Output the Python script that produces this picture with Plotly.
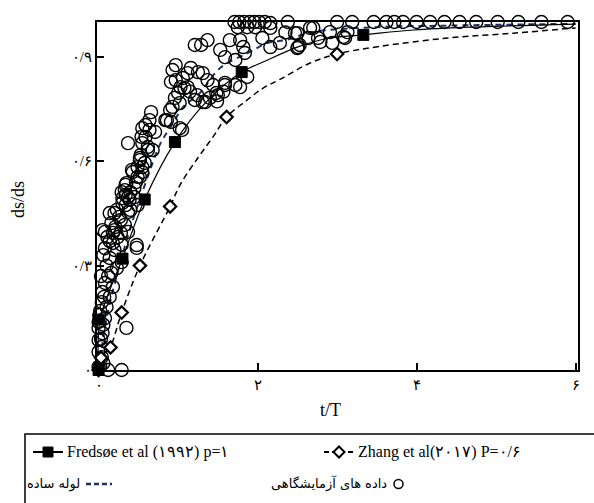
import plotly.graph_objects as go

# ---- data -------------------------------------------------------------
# laboratory measurements (t/T, ds/ds)
lab_t = [
    0.12, 0.29, 0.0, 0.04, 0.0, 0.04, 0.0, 0.05, 0.0, 0.35, 0.0, 0.08, 0.01, 0.10,
    0.04, 0.14, 0.05, 0.18, 0.08, 0.16, 0.23, 0.29, 0.14, 0.20, 0.29, 0.48, 0.18,
    0.11, 0.24, 0.05, 0.20, 0.16, 0.26, 0.14, 0.37, 0.23, 0.49, 0.30, 0.37, 0.29,
    0.45, 0.35, 0.49, 0.42, 0.55, 0.52, 0.62, 0.54, 0.48,
    0.02, 0.06, 0.03, 0.06, 0.02, 0.07, 0.03, 0.10, 0.06, 0.12, 0.08, 0.14,
    1.29, 1.53, 0.97, 0.93, 1.16, 1.25, 1.12, 1.06, 0.97, 0.91, 1.03, 1.12, 1.00,
    0.96, 1.02, 0.93, 0.90, 0.84, 0.91, 1.02, 1.31, 1.37, 1.44, 1.48, 1.40, 1.31,
    1.21, 1.59, 0.66, 0.59, 0.55, 0.64, 0.71, 0.59, 0.55, 0.37, 0.62, 0.68, 0.53,
    0.52, 0.58, 0.49, 0.55, 0.43, 0.52, 0.47, 0.34, 0.33, 0.40, 0.34, 0.30, 0.39,
    0.45, 0.34, 0.40, 0.20, 0.28, 0.33, 0.21, 0.08, 0.18, 0.28, 0.37,
    0.64, 0.86, 1.05, 1.21,
    1.71, 1.77, 1.83, 1.90, 1.96, 2.02, 2.09, 1.75, 1.87, 1.97, 2.16, 2.16, 2.38,
    2.35, 2.47, 2.66, 2.51, 2.16, 1.37, 1.65, 1.78, 1.82, 1.59, 1.72, 1.84, 2.06,
    1.87, 1.72, 1.78, 1.59, 1.50,
    2.28, 2.50, 2.50, 2.64, 2.70, 2.79, 2.94, 2.91, 3.10, 3.13, 2.53, 2.76, 3.08,
    1.24, 1.34, 1.49, 1.57, 1.08, 1.15,
    3.00, 3.19, 3.46, 3.62, 3.72, 3.83, 4.00, 4.17, 4.35, 4.54, 4.75, 5.02, 5.28,
    5.57, 5.90,
]
lab_ds = [
    0.0, 0.0, 0.009, 0.037, 0.052, 0.066, 0.086, 0.106, 0.121, 0.121, 0.138, 0.149,
    0.158, 0.181, 0.195, 0.21, 0.224, 0.239, 0.25, 0.279, 0.293, 0.31, 0.322, 0.345,
    0.36, 0.351, 0.365, 0.382, 0.382, 0.402, 0.402, 0.422, 0.44, 0.451, 0.454, 0.46,
    0.474, 0.48, 0.497, 0.511, 0.523, 0.537, 0.555, 0.575, 0.583, 0.609, 0.632,
    0.67, 0.359,
    0.01, 0.02, 0.09, 0.13, 0.17, 0.21, 0.27, 0.30, 0.33, 0.27, 0.35, 0.37,
    0.934, 0.92, 0.876, 0.862, 0.868, 0.856, 0.853, 0.839, 0.833, 0.828, 0.813,
    0.813, 0.796, 0.782, 0.767, 0.756, 0.747, 0.718, 0.713, 0.695, 0.853, 0.833,
    0.819, 0.796, 0.782, 0.770, 0.776, 0.819, 0.741, 0.704, 0.695, 0.690, 0.684,
    0.670, 0.652, 0.652, 0.641, 0.632, 0.618, 0.603, 0.595, 0.583, 0.569, 0.569,
    0.555, 0.540, 0.532, 0.517, 0.511, 0.503, 0.494, 0.489, 0.497, 0.474, 0.460,
    0.451, 0.431, 0.417, 0.411, 0.397, 0.394, 0.394, 0.397,
    0.718, 0.718, 0.690, 0.934,
    1.0, 1.0, 1.0, 1.0, 1.0, 1.0, 1.0, 0.985, 0.985, 0.985, 0.997, 0.983, 1.0,
    0.970, 0.968, 0.983, 0.928, 0.928, 0.948, 0.948, 0.948, 0.928, 0.899, 0.891,
    0.911, 0.954, 0.842, 0.819, 0.813, 0.825, 0.790,
    0.940, 0.968, 0.925, 0.954, 0.983, 0.943, 0.940, 0.971, 0.954, 0.971, 0.934,
    0.954, 0.957,
    0.790, 0.770, 0.772, 0.800, 0.810, 0.800,
    1.0, 1.0, 1.0, 1.0, 1.0, 1.0, 1.0, 1.0, 1.0, 1.0, 1.0, 1.0, 1.0, 1.0, 1.0,
]

# Fredsoe et al (1992), p = 1
fredsoe_curve_t = [0, 0.02, 0.30, 0.58, 0.96, 1.34, 1.80, 2.07, 2.50, 2.91, 3.33, 3.96, 4.80, 6.00]
fredsoe_curve_ds = [0, 0.145, 0.32, 0.49, 0.655, 0.767, 0.856, 0.885, 0.928, 0.954, 0.963, 0.977, 0.986, 0.994]
fredsoe_pts_t = [0.0, 0.0, 0.30, 0.58, 0.96, 1.80, 3.33]
fredsoe_pts_ds = [0.0, 0.145, 0.32, 0.49, 0.655, 0.856, 0.963]

# Zhang et al (2017), P = 0.6
zhang_curve_t = [0, 0.15, 0.29, 0.52, 0.90, 1.02, 1.25, 1.44, 1.61, 1.87, 2.07, 2.28, 2.66, 3.00, 3.54, 4.39, 5.22, 6.00]
zhang_curve_ds = [0, 0.065, 0.165, 0.30, 0.47, 0.53, 0.61, 0.67, 0.727, 0.776, 0.81, 0.835, 0.882, 0.908, 0.93, 0.954, 0.968, 0.983]
zhang_pts_t = [0.0, 0.03, 0.15, 0.29, 0.52, 0.90, 1.61, 3.00]
zhang_pts_ds = [0.0, 0.035, 0.065, 0.165, 0.30, 0.47, 0.727, 0.908]

# plain pipe
pipe_t = [0, 0.08, 0.16, 0.30, 0.43, 0.53, 0.66, 0.78, 0.91, 1.08, 1.25, 1.54, 1.88, 2.13, 2.35, 2.69, 3.50, 4.50, 6.00]
pipe_ds = [0, 0.12, 0.21, 0.33, 0.431, 0.497, 0.583, 0.652, 0.70, 0.76, 0.79, 0.87, 0.911, 0.94, 0.948, 0.971, 0.985, 0.99, 0.995]

x_ticks = [0, 2, 4, 6]
x_tick_text = ["۰", "۲", "۴", "۶"]
y_ticks = [0, 0.3, 0.6, 0.9]
y_tick_text = ["۰", "۰/۳", "۰/۶", "۰/۹"]

legend_fredsoe = "Fredsøe et al (۱۹۹۲) p=۱"
legend_zhang = "Zhang et al(۲۰۱۷) P=۰/۶"
legend_pipe = "لوله ساده"
legend_lab = "داده های آزمایشگاهی"

NAVY = "#1c2f66"
SERIF = "Liberation Serif, DejaVu Serif, serif"

W, H = 594, 503
ML, MR, MT, MB = 97, 16, 22, 133
PW, PH = W - ML - MR, H - MT - MB


def px(xpix):
    return (xpix - ML) / PW


def py(ypix):
    return (H - MB - ypix) / PH


fig = go.Figure()

fig.add_trace(go.Scatter(x=pipe_t, y=pipe_ds, mode="lines", line_shape="spline",
                         line=dict(color=NAVY, width=2, dash="6px,5px"), hoverinfo="skip"))
fig.add_trace(go.Scatter(x=zhang_curve_t, y=zhang_curve_ds, mode="lines", line_shape="spline",
                         line=dict(color="black", width=1.5, dash="6px,4px"), hoverinfo="skip"))
fig.add_trace(go.Scatter(x=fredsoe_curve_t, y=fredsoe_curve_ds, mode="lines", line_shape="spline",
                         line=dict(color="black", width=1.2), hoverinfo="skip"))
fig.add_trace(go.Scatter(x=lab_t, y=lab_ds, mode="markers", cliponaxis=False,
                         marker=dict(symbol="circle-open", size=13, color="black",
                                     line=dict(width=1.4, color="black"))))
fig.add_trace(go.Scatter(x=zhang_pts_t, y=zhang_pts_ds, mode="markers", cliponaxis=False,
                         marker=dict(symbol="diamond", size=9.5, color="white",
                                     line=dict(width=2.2, color="black"))))
fig.add_trace(go.Scatter(x=fredsoe_pts_t, y=fredsoe_pts_ds, mode="markers", cliponaxis=False,
                         marker=dict(symbol="square", size=11, color="black",
                                     line=dict(width=1, color="black"))))

axis_common = dict(showgrid=False, zeroline=False, showline=True, linecolor="black",
                   linewidth=2, mirror=True, ticks="inside", ticklen=7, tickwidth=2,
                   tickcolor="black", tickfont=dict(family=SERIF, size=15, color="black"))

fig.update_xaxes(range=[-0.02, 6.03], tickvals=x_ticks, ticktext=x_tick_text, **axis_common)
fig.update_yaxes(range=[0, 1.0], tickvals=y_ticks, ticktext=y_tick_text, **axis_common)

annotations = [
    dict(text="t/T", x=px(330), y=py(410), showarrow=False,
         font=dict(family=SERIF, size=18, color="black")),
    dict(text="ds/ds", x=px(18), y=py(200), showarrow=False, textangle=-90,
         font=dict(family=SERIF, size=18, color="black")),
    dict(text=legend_fredsoe, x=px(65), y=py(452), xanchor="left", showarrow=False,
         font=dict(family=SERIF, size=16, color="black")),
    dict(text=legend_zhang, x=px(356), y=py(452), xanchor="left", showarrow=False,
         font=dict(family=SERIF, size=16, color="black")),
    dict(text=legend_pipe, x=px(82), y=py(484), xanchor="right", showarrow=False,
         font=dict(family="DejaVu Sans", size=13, color="black")),
    dict(text=legend_lab, x=px(389), y=py(484), xanchor="right", showarrow=False,
         font=dict(family="DejaVu Sans", size=13, color="black")),
]
for a in annotations:
    a.update(xref="paper", yref="paper", yanchor="middle")
    a.setdefault("xanchor", "center")

shapes = [
    # legend frame
    dict(type="rect", x0=px(25), y0=py(434), x1=px(610), y1=py(520),
         line=dict(color="black", width=1.5)),
    # Fredsoe sample
    dict(type="line", x0=px(33), y0=py(452), x1=px(63), y1=py(452),
         line=dict(color="black", width=2)),
    dict(type="rect", x0=px(43), y0=py(447), x1=px(53), y1=py(457),
         fillcolor="black", line=dict(color="black", width=1)),
    # Zhang sample
    dict(type="line", x0=px(324), y0=py(452), x1=px(353), y1=py(452),
         line=dict(color="black", width=2, dash="5px,3px")),
    dict(type="path",
         path=f"M {px(339)},{py(446.5)} L {px(344.5)},{py(452)} L {px(339)},{py(457.5)} L {px(333.5)},{py(452)} Z",
         fillcolor="white", line=dict(color="black", width=2)),
    # plain pipe sample
    dict(type="line", x0=px(86), y0=py(484), x1=px(112), y1=py(484),
         line=dict(color=NAVY, width=2.5, dash="5px,3px")),
    # laboratory sample
    dict(type="circle", x0=px(394), y0=py(479.5), x1=px(403), y1=py(488.5),
         line=dict(color="black", width=1.5)),
]
for s in shapes:
    s.update(xref="paper", yref="paper")

fig.update_layout(
    width=W, height=H, margin=dict(l=ML, r=MR, t=MT, b=MB, pad=0),
    paper_bgcolor="white", plot_bgcolor="white", showlegend=False,
    annotations=annotations, shapes=shapes,
    font=dict(family=SERIF, color="black"),
)

fig.write_html("out.html")
